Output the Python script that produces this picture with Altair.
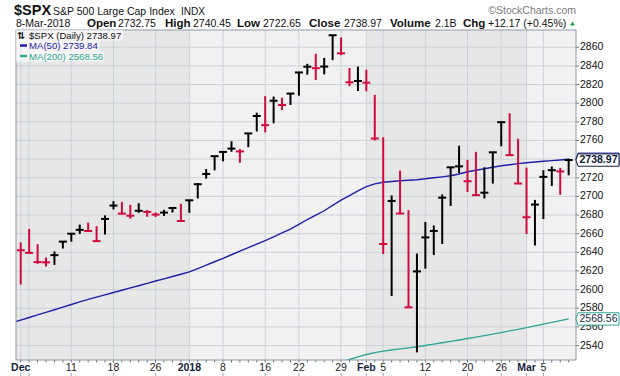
import altair as alt
import pandas as pd

# ---------------- data ----------------
# trading-day index 0 = 1-Dec-2017 ... 65 = 8-Mar-2018
highs = [2650.62, 2665.19, 2648.72, 2634.41, 2640.99, 2651.65, 2660.33, 2669.72, 2671.88, 2668.09,
         2679.63, 2694.97, 2694.19, 2691.01, 2692.64, 2685.35, 2682.74, 2685.64, 2687.66, 2692.12,
         2695.89, 2714.37, 2729.29, 2743.45, 2748.51, 2759.14, 2750.80, 2767.56, 2789.81, 2807.54,
         2807.04, 2805.83, 2810.33, 2833.03, 2842.24, 2852.97, 2848.56, 2872.87, 2870.62, 2837.75,
         2839.26, 2835.96, 2808.92, 2763.39, 2701.04, 2727.67, 2685.27, 2638.67, 2672.61, 2668.84,
         2702.10, 2731.51, 2754.42, 2739.19, 2747.75, 2731.26, 2747.76, 2780.64, 2789.15, 2761.85,
         2730.89, 2696.25, 2728.09, 2732.08, 2730.60, 2740.45]
lows = [2605.52, 2639.03, 2627.73, 2624.75, 2626.53, 2644.10, 2651.47, 2659.78, 2662.85, 2652.01,
        2659.14, 2685.92, 2680.74, 2676.11, 2682.40, 2678.13, 2677.96, 2678.91, 2682.69, 2673.61,
        2682.36, 2697.77, 2719.07, 2727.92, 2737.60, 2747.86, 2736.06, 2752.78, 2769.64, 2768.64,
        2778.38, 2792.56, 2798.08, 2808.12, 2830.59, 2824.81, 2830.94, 2846.18, 2851.48, 2818.27,
        2813.04, 2812.70, 2759.97, 2638.17, 2593.07, 2681.33, 2580.56, 2532.69, 2622.45, 2637.08,
        2648.87, 2689.82, 2725.11, 2704.80, 2701.29, 2697.77, 2713.74, 2753.78, 2744.22, 2713.54,
        2659.65, 2647.32, 2675.75, 2711.26, 2701.74, 2722.65]
closes = [2642.22, 2639.44, 2629.57, 2629.27, 2636.98, 2651.50, 2659.99, 2664.11, 2662.85, 2652.01,
          2675.81, 2690.16, 2681.47, 2679.25, 2684.57, 2683.34, 2680.50, 2682.62, 2687.54, 2673.61,
          2695.81, 2713.06, 2723.99, 2743.15, 2747.71, 2751.29, 2748.23, 2767.56, 2786.24, 2776.42,
          2802.56, 2798.03, 2810.30, 2832.97, 2839.13, 2837.54, 2839.25, 2872.87, 2853.53, 2822.43,
          2823.81, 2821.98, 2762.13, 2648.94, 2695.14, 2681.66, 2581.00, 2619.55, 2656.00, 2662.94,
          2698.63, 2731.20, 2732.22, 2716.26, 2701.33, 2703.96, 2747.30, 2779.60, 2744.28, 2713.83,
          2677.67, 2691.25, 2720.94, 2728.12, 2726.80, 2738.97]
prev_close = 2647.58  # 30-Nov-2017

ma50_start = -1
ma50 = [2564.6, 2567.3, 2570.1, 2572.9, 2575.6, 2578.4, 2581.2, 2584.0, 2586.8, 2589.5,
        2592.0, 2594.4, 2596.9, 2599.3, 2601.8, 2604.2, 2606.7, 2609.2, 2611.6, 2614.1,
        2616.5, 2619.0, 2622.6, 2626.2, 2629.9, 2633.6, 2637.4, 2641.2, 2645.0, 2648.8,
        2652.6, 2656.6, 2660.8, 2665.0, 2670.0, 2675.2, 2680.0, 2684.6, 2690.4, 2696.0,
        2700.8, 2705.8, 2710.4, 2713.4, 2715.2, 2716.0, 2716.8, 2717.4, 2717.9, 2718.9,
        2720.0, 2721.0, 2722.2, 2724.0, 2726.4, 2728.0, 2729.6, 2731.2, 2732.9, 2734.0,
        2735.1, 2736.1, 2736.9, 2737.7, 2738.4, 2739.1, 2739.84]
ma200_start = 38
ma200 = [2522.8, 2525.0, 2527.8, 2530.4, 2532.4, 2534.0, 2535.2, 2536.4, 2537.5, 2538.7,
         2540.0, 2541.5, 2543.0, 2544.5, 2546.0, 2547.5, 2549.1, 2550.7, 2552.3, 2553.9,
         2555.7, 2557.4, 2559.2, 2561.1, 2563.0, 2564.9, 2566.7, 2568.56]

tick_idx = [0, 1, 6, 11, 16, 20, 24, 29, 33, 38, 41, 43, 48, 53, 57, 60, 62]
tick_lab = ["Dec", "", "11", "18", "26", "2018", "8", "16", "22", "29", "Feb", "5", "12", "20", "26", "Mar", "5"]
bold_labels = ["Dec", "2018", "Feb", "Mar"]
month_start = [None, 20, 41, 60]
month_kind = ["dark", "light", "dark", "light"]
y_ticks = list(range(2540, 2861, 20))

header_row1 = [("$SPX", 14, "bold", 14.5), ("S&P 500 Large Cap Index", 53, "normal", 10.5), ("INDX", 181, "normal", 10)]
header_row2 = [("8-Mar-2018", 16, "normal", 10.5), ("Open", 87, "bold", 11.5), ("2732.75", 118, "normal", 10.5),
               ("High", 165, "bold", 11.5), ("2740.45", 193, "normal", 10.5),
               ("Low", 237, "bold", 11.5), ("2722.65", 263, "normal", 10.5),
               ("Close", 309, "bold", 11.5), ("2738.97", 344, "normal", 10.5),
               ("Volume", 390, "bold", 11.5), ("2.1B", 435, "normal", 10.5),
               ("Chg", 463, "bold", 11.5), ("+12.17 (+0.45%)", 488, "normal", 10.5)]

# ---------------- layout ----------------
L, T = 16, 30
W, H = 560, 330
X_MIN, X_MAX = -0.56, 65.87
Y_MIN, Y_MAX = 2524.5, 2878.5
FONT = "Liberation Sans"
RED = "#d10a3c"
BLUE = "#1f1fa8"
TEAL = "#2fa595"
GRID = "#cbd2da"

xs = alt.Scale(domain=[X_MIN, X_MAX], nice=False, zero=False)
ys = alt.Scale(domain=[Y_MIN, Y_MAX], nice=False, zero=False)
X = lambda f: alt.X(f, scale=xs, axis=None)
Y = lambda f: alt.Y(f, scale=ys, axis=None)

bars = pd.DataFrame({"i": list(range(len(closes))), "high": highs, "low": lows, "close": closes})
prevs = [prev_close] + closes[:-1]
bars["dir"] = ["down" if c < p else "up" for c, p in zip(closes, prevs)]

ms = [X_MIN if v is None else v for v in month_start]
me = ms[1:] + [X_MAX]
months = pd.DataFrame({"a": ms, "b": me, "k": month_kind})
ticks = pd.DataFrame({"i": tick_idx, "lab": tick_lab})
ticks["bold"] = [s in bold_labels for s in tick_lab]
ygrid = pd.DataFrame({"v": y_ticks})

layers = []
for kind, col in [("dark", "#e7e7e7"), ("light", "#f1f1f1")]:
    layers.append(alt.Chart(months).transform_filter(alt.datum.k == kind).mark_rect(color=col).encode(
        x=X("a:Q"), x2="b:Q", y=alt.value(0), y2=alt.value(H)))

# grid lines
layers.append(alt.Chart(ygrid).mark_rule(color=GRID, strokeWidth=1).encode(
    y=Y("v:Q"), x=alt.value(0), x2=alt.value(W)))
layers.append(alt.Chart(ticks).mark_rule(color=GRID, strokeWidth=1).encode(
    x=X("i:Q"), y=alt.value(0), y2=alt.value(H)))

# right axis: ticks + labels (the label under the last-close box is hidden, as in the original)
layers.append(alt.Chart(ygrid).mark_rule(color="#777777", strokeWidth=1).encode(
    y=Y("v:Q"), x=alt.value(W), x2=alt.value(W + 3)))
layers.append(alt.Chart(ygrid).transform_filter("abs(datum.v - %f) > 8" % closes[-1]).mark_text(
    align="left", baseline="middle", font=FONT, fontSize=10.5, color="#111111").encode(
    y=Y("v:Q"), x=alt.value(W + 4), text="v:N"))

# bottom axis: day ticks + labels
layers.append(alt.Chart(bars).mark_rule(color="#667077", strokeWidth=1).encode(
    x=X("i:Q"), y=alt.value(H), y2=alt.value(H + 2.5)))
layers.append(alt.Chart(ticks).mark_rule(color="#9aa0aa", strokeWidth=1).encode(
    x=X("i:Q"), y=alt.value(H + 13), y2=alt.value(H + 16)))
layers.append(alt.Chart(ticks).transform_filter("datum.bold").mark_text(
    align="center", baseline="alphabetic", font=FONT, fontSize=10.5, fontWeight="bold", color="#14233a").encode(
    x=X("i:Q"), y=alt.value(H + 10.5), text="lab:N"))
layers.append(alt.Chart(ticks).transform_filter("!datum.bold").mark_text(
    align="center", baseline="alphabetic", font=FONT, fontSize=10.5, color="#222222").encode(
    x=X("i:Q"), y=alt.value(H + 10.5), text="lab:N"))

# moving averages
m50 = pd.DataFrame({"i": list(range(ma50_start, ma50_start + len(ma50))), "v": ma50})
m200 = pd.DataFrame({"i": list(range(ma200_start, ma200_start + len(ma200))), "v": ma200})
layers.append(alt.Chart(m200).mark_line(color=TEAL, strokeWidth=1.4, clip=True).encode(x=X("i:Q"), y=Y("v:Q")))
layers.append(alt.Chart(m50).mark_line(color=BLUE, strokeWidth=1.4, clip=True).encode(x=X("i:Q"), y=Y("v:Q")))

# price bars
cscale = alt.Scale(domain=["up", "down"], range=["#000000", RED])
layers.append(alt.Chart(bars).mark_rule(strokeWidth=2).encode(
    x=X("i:Q"), y=Y("low:Q"), y2="high:Q", color=alt.Color("dir:N", scale=cscale, legend=None)))
layers.append(alt.Chart(bars).mark_tick(orient="horizontal", size=8, thickness=2, opacity=1).encode(
    x=X("i:Q"), y=Y("close:Q"), color=alt.Color("dir:N", scale=cscale, legend=None)))

# plot border
layers.append(alt.Chart(pd.DataFrame({"z": [0]})).mark_rect(fill=None, stroke="#8d98a4", strokeWidth=1).encode(
    x=alt.value(0), x2=alt.value(W), y=alt.value(0), y2=alt.value(H)))


def txt(s, x, y, size, weight="normal", color="#111111", align="left", baseline="alphabetic", font=FONT):
    return alt.Chart(pd.DataFrame({"t": [s]})).mark_text(
        align=align, baseline=baseline, fontSize=size, fontWeight=weight, color=color, font=font).encode(
        x=alt.value(x - L), y=alt.value(y - T), text="t:N")


# legend block (top-left)
legend_rows = [("$SPX (Daily) %.2f" % closes[-1], "#111111", 123),
               ("MA(50) %.2f" % ma50[-1], BLUE, 100),
               ("MA(200) %.2f" % ma200[-1], TEAL, 104)]
for k, (s, col, x2) in enumerate(legend_rows):
    y0 = 30 + k * 10.5
    layers.append(alt.Chart(pd.DataFrame({"z": [0]})).mark_rect(color="white", opacity=0.6).encode(
        x=alt.value(0), x2=alt.value(x2 - L), y=alt.value(y0 - T), y2=alt.value(y0 + 10.5 - T)))
    layers.append(txt(s, 29, y0 + 8.5, 9.6, color=col))
    if k > 0:
        layers.append(alt.Chart(pd.DataFrame({"z": [0]})).mark_rule(color=col, strokeWidth=2.5).encode(
            x=alt.value(20 - L), x2=alt.value(27 - L), y=alt.value(y0 + 5 - T)))
layers.append(txt("⇅", 17, 38.5, 9.5, weight="bold", font="DejaVu Sans"))

# right price boxes (MA50 box sits just behind the last-close box)
box_path = "M-1.1,0L-1,-0.3L1,-0.3L1,0.3L-1,0.3Z"
BX = 598.5 - L
for val, stroke, tcol, weight, show in [(ma200[-1], TEAL, "#1b2a44", "normal", True),
                                        (ma50[-1], BLUE, "#1b2a44", "bold", False),
                                        (closes[-1], "#14213a", "#0d1a33", "bold", True)]:
    d = pd.DataFrame({"v": [val], "t": ["%.2f" % val]})
    layers.append(alt.Chart(d).mark_point(shape=box_path, size=1681, filled=True, fill="white", stroke=stroke,
                                          strokeWidth=1, opacity=1).encode(x=alt.value(BX), y=Y("v:Q")))
    if show:
        layers.append(alt.Chart(d).mark_text(align="center", baseline="middle", fontSize=10.5, fontWeight=weight,
                                             font=FONT, color=tcol).encode(x=alt.value(BX), y=Y("v:Q"), text="t:N"))

# header
for s, x, wgt, sz in header_row1:
    layers.append(txt(s, x, 15, sz, weight=wgt))
for s, x, wgt, sz in header_row2:
    layers.append(txt(s, x, 26.5, sz, weight=wgt))
layers.append(txt("©StockCharts.com", 576, 14, 10.5, color="#7a7a7a", align="right"))
layers.append(alt.Chart(pd.DataFrame({"z": [0]})).mark_point(shape="triangle-up", filled=True, color="#1c9a3c",
                                                              size=22, opacity=1).encode(
    x=alt.value(572.5 - L), y=alt.value(23.5 - T)))

chart = alt.layer(*layers).resolve_scale(color="independent").properties(
    width=W, height=H,
    autosize=alt.AutoSizeParams(type="none"),
    padding={"left": L, "top": T, "right": 620 - L - W, "bottom": 376 - T - H},
    background="white",
).configure_view(stroke=None)

chart.save("out.html", embed_options={"renderer": "svg", "actions": False})
